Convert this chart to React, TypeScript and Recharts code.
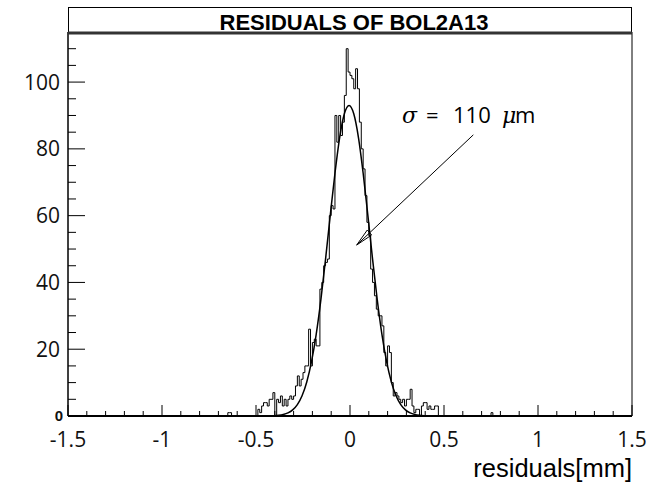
import React from 'react';
import {
  ComposedChart,
  Line,
  XAxis,
  YAxis,
  ReferenceLine,
  ReferenceDot,
  ReferenceArea,
} from 'recharts';

// ---------- data ----------
const BIN_WIDTH = 0.01;
const FIRST_BIN_LO = -0.49;
// histogram counts, bins of 0.01 mm from -0.49 to 0.47
const binCounts = [
  2, 1, 3, 4, 4, 3, 5, 5, 7, 0,
  5, 4, 6, 3, 5, 3, 5, 6, 5, 6,
  9, 12, 9, 11, 13, 15, 15, 26, 15, 22,
  23, 21, 21, 38, 40, 45, 46, 47, 60, 63,
  62, 90, 82, 90, 84, 88, 96, 110, 103, 102,
  101, 98, 104, 98, 88, 80, 74, 66, 58, 54,
  44, 40, 36, 32, 30, 30, 27, 19, 15, 21,
  19, 10, 6, 7, 6, 5, 4, 5, 3, 5,
  5, 8, 3, 1, 2, 2, 0, 3, 4, 4,
  2, 3, 2, 2, 3, 3,
];
// isolated entries far in the tails
const outlierBinLo = [-0.65, -0.64, 0.75];
const outlierCounts = [1, 1, 1];

// gaussian fit curve
const gaussX = [
  -0.405, -0.38, -0.355, -0.33, -0.305, -0.28, -0.255, -0.23, -0.205, -0.18, -0.155,
  -0.13, -0.105, -0.08, -0.055, -0.03, -0.005, 0.02, 0.045, 0.07, 0.095, 0.12,
  0.145, 0.17, 0.195, 0.22, 0.245, 0.27, 0.295, 0.32, 0.345, 0.37, 0.395,
];
const gaussY = [
  0.09, 0.2, 0.44, 0.92, 1.83, 3.42, 6.07, 10.2, 16.2, 24.4, 34.8,
  47.0, 60.1, 72.7, 83.4, 90.5, 93.0, 90.5, 83.4, 72.7, 60.1, 47.0,
  34.8, 24.4, 16.2, 10.2, 6.07, 3.42, 1.83, 0.92, 0.44, 0.2, 0.09,
];

const xTicks = [
  -1.5, -1.4, -1.3, -1.2, -1.1, -1, -0.9, -0.8, -0.7, -0.6, -0.5, -0.4, -0.3, -0.2, -0.1,
  0, 0.1, 0.2, 0.3, 0.4, 0.5, 0.6, 0.7, 0.8, 0.9, 1, 1.1, 1.2, 1.3, 1.4, 1.5,
];
const xMajorTicks = [-1.5, -1, -0.5, 0, 0.5, 1, 1.5];
const xMajorLabels = ['-1.5', '-1', '-0.5', '0', '0.5', '1', '1.5'];
const yTicks = [0, 5, 10, 15, 20, 25, 30, 35, 40, 45, 50, 55, 60, 65, 70, 75, 80, 85, 90, 95, 100, 105, 110];
const yMajorTicks = [0, 20, 40, 60, 80, 100];
const yMajorLabels = ['0', '20', '40', '60', '80', '100'];

const sigmaLabelPos = { x: 0.2766, y: 87.7 };
const arrowFrom = { x: 0.656, y: 84.2 };
const arrowTip = { x: 0.0356, y: 51.2 };
const arrowHeadA = { x: 0.092, y: 55.7 };
const arrowHeadB = { x: 0.115, y: 54.2 };

// ---------- build series ----------
const r3 = (v: number) => Math.round(v * 1000) / 1000;

function buildHistogram() {
  const bins: { lo: number; n: number }[] = [];
  binCounts.forEach((n, i) => bins.push({ lo: r3(FIRST_BIN_LO + i * BIN_WIDTH), n }));
  outlierBinLo.forEach((lo, i) => bins.push({ lo, n: outlierCounts[i] }));
  bins.sort((a, b) => a.lo - b.lo);
  const pts: { x: number; y: number }[] = [{ x: -1.5, y: 0 }];
  bins.forEach((b, i) => {
    pts.push({ x: b.lo, y: b.n });
    const hi = r3(b.lo + BIN_WIDTH);
    const next = bins[i + 1];
    if (!next || Math.abs(next.lo - hi) > 1e-6) pts.push({ x: hi, y: 0 });
  });
  pts.push({ x: 1.5, y: 0 });
  return pts;
}

const histData = buildHistogram();
const gaussData = gaussX.map((x, i) => ({ x, y: gaussY[i] }));

const TICK_FONT = '"Open Sans", "DejaVu Sans", sans-serif';
const ARIAL = '"Liberation Sans", Arial, sans-serif';

const XTick = (props: any) => {
  const { x, y, payload } = props;
  const v = payload.value;
  const idx = xMajorTicks.findIndex((m) => Math.abs(m - v) < 1e-9);
  const major = idx >= 0;
  return (
    <g>
      <line x1={x} x2={x} y1={y} y2={y - (major ? 11 : 5)} stroke="#000" strokeWidth={1} />
      {major && (
        <text x={x} y={y + 31} textAnchor="middle" fontFamily={TICK_FONT} fontSize={21} fill="#111">
          {xMajorLabels[idx]}
        </text>
      )}
    </g>
  );
};

const YTick = (props: any) => {
  const { x, y, payload } = props;
  const v = payload.value;
  const idx = yMajorTicks.indexOf(v);
  const major = idx >= 0;
  return (
    <g>
      <line x1={x} x2={x + (major ? 17 : 8)} y1={y} y2={y} stroke="#000" strokeWidth={1} />
      {v === 0 ? (
        <text x={x - 5} y={y + 5} textAnchor="end" fontFamily={ARIAL} fontWeight="bold" fontSize={15} fill="#111">
          {yMajorLabels[idx]}
        </text>
      ) : major ? (
        <text x={x - 8} y={y} dy="0.36em" textAnchor="end" fontFamily={TICK_FONT} fontSize={21} fill="#111">
          {yMajorLabels[idx]}
        </text>
      ) : null}
    </g>
  );
};

const SigmaLabel = (props: any) => {
  const { cx, cy } = props;
  const serif = '"DejaVu Serif", "Liberation Serif", serif';
  return (
    <g>
      <text x={cx} y={cy} fontFamily={serif} fontStyle="italic" fontSize={22} fill="#000">σ</text>
      <text x={cx + 24} y={cy} fontFamily={TICK_FONT} fontSize={22} fill="#000">=</text>
      <text x={cx + 51} y={cy} fontFamily={TICK_FONT} fontSize={22} fill="#000">110</text>
      <text x={cx + 100} y={cy} fontFamily={serif} fontStyle="italic" fontSize={22} fill="#000">μ</text>
      <text x={cx + 113} y={cy} fontFamily={TICK_FONT} fontSize={22} fill="#000">m</text>
    </g>
  );
};

export default function App() {
  return (
    <div style={{ position: 'absolute', left: 0, top: 0, width: 663, height: 483, background: '#fff', overflow: 'hidden' }}>
      <ComposedChart width={663} height={483} margin={{ top: 32, right: 31, bottom: 27, left: 8 }}>
        <XAxis
          type="number"
          dataKey="x"
          domain={[-1.5, 1.5]}
          ticks={xTicks}
          interval={0}
          allowDataOverflow
          height={40}
          tickSize={0}
          tickMargin={0}
          tickLine={false}
          tick={<XTick />}
          axisLine={{ stroke: '#000', strokeWidth: 2 }}
        />
        <YAxis
          type="number"
          domain={[0, 115]}
          ticks={yTicks}
          interval={0}
          allowDataOverflow
          width={60}
          tickSize={0}
          tickMargin={0}
          tickLine={false}
          tick={<YTick />}
          axisLine={{ stroke: '#000', strokeWidth: 1 }}
        />
        <ReferenceArea x1={-1.5} x2={1.5} y1={0} y2={115} fill="none" stroke="#000" strokeWidth={1} ifOverflow="visible" />
        <Line
          data={histData}
          dataKey="y"
          type="stepAfter"
          stroke="#000"
          strokeWidth={1}
          dot={false}
          isAnimationActive={false}
        />
        <Line
          data={gaussData}
          dataKey="y"
          type="monotone"
          stroke="#000"
          strokeWidth={1.5}
          dot={false}
          isAnimationActive={false}
        />
        <ReferenceLine segment={[arrowFrom, arrowTip]} stroke="#000" strokeWidth={1} ifOverflow="visible" />
        <ReferenceLine segment={[arrowTip, arrowHeadA]} stroke="#000" strokeWidth={1} ifOverflow="visible" />
        <ReferenceLine segment={[arrowTip, arrowHeadB]} stroke="#000" strokeWidth={1} ifOverflow="visible" />
        <ReferenceLine segment={[arrowHeadA, arrowHeadB]} stroke="#000" strokeWidth={1} ifOverflow="visible" />
        <ReferenceDot
          x={sigmaLabelPos.x}
          y={sigmaLabelPos.y}
          r={0}
          ifOverflow="visible"
          shape={(p: any) => <SigmaLabel {...p} />}
        />
      </ComposedChart>
      <svg
        width={663}
        height={483}
        style={{ position: 'absolute', left: 0, top: 0, pointerEvents: 'none' }}
      >
        <rect x={68.5} y={7.5} width={563} height={25} fill="#fff" stroke="#000" strokeWidth={1} />
        <line x1={68} x2={632} y1={33} y2={33} stroke="#333" strokeWidth={3} />
        <text x={354} y={30} textAnchor="middle" fontFamily={ARIAL} fontWeight="bold" fontSize={22} fill="#000">
          RESIDUALS OF BOL2A13
        </text>
        <text x={632} y={477} textAnchor="end" fontFamily={ARIAL} fontSize={25.5} fill="#000">
          residuals[mm]
        </text>
      </svg>
    </div>
  );
}
